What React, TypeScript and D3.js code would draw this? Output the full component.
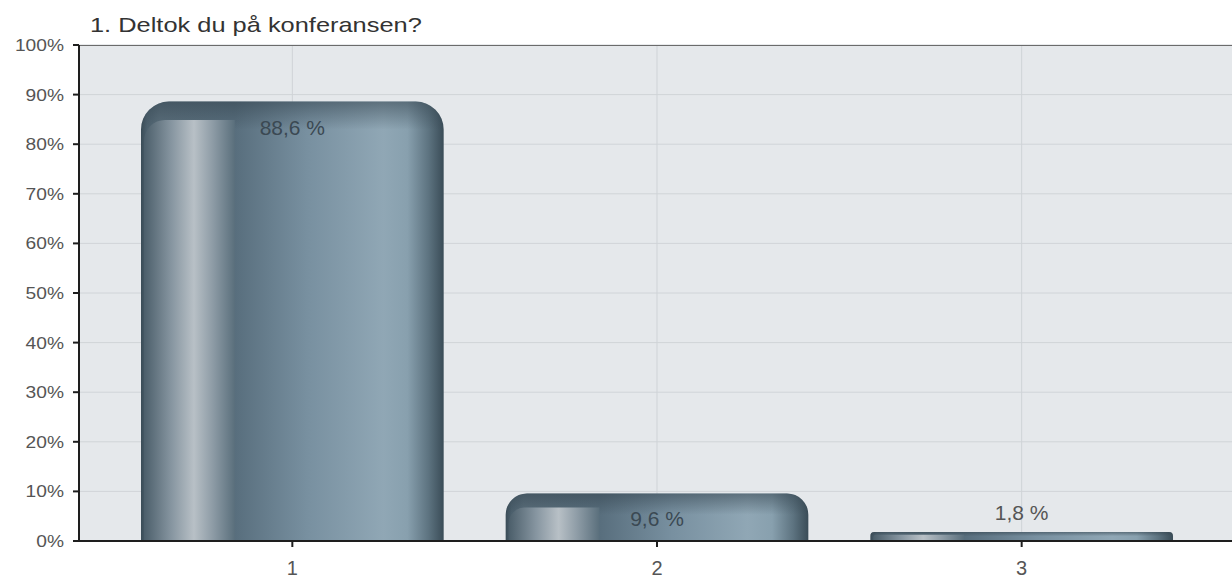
import React from "react";
import * as d3 from "d3";

const title = "1. Deltok du på konferansen?";
const categories = ["1", "2", "3"];
const values = [88.6, 9.6, 1.8];
const yTicks = [0, 10, 20, 30, 40, 50, 60, 70, 80, 90, 100];

const W = 1232;
const H = 578;
const left = 79;
const right = 1235;
const top = 45;
const bottom = 541;

const locale = d3.formatLocale({ decimal: ",", thousands: " ", grouping: [3], currency: ["", " kr"] });
const fmt = locale.format(".1f");

function topRoundedPath(x: number, y: number, w: number, h: number, r: number, rRight = true) {
  const p = d3.path();
  p.moveTo(x, y + h);
  p.lineTo(x, y + r);
  p.arcTo(x, y, x + r, y, r);
  if (rRight) {
    p.lineTo(x + w - r, y);
    p.arcTo(x + w, y, x + w, y + r, r);
  } else {
    p.lineTo(x + w, y);
  }
  p.lineTo(x + w, y + h);
  p.closePath();
  return p.toString();
}

export default function App() {
  const x = d3.scaleBand<string>().domain(categories).range([left, right]).paddingInner(0.17).paddingOuter(0.17);
  const y = d3.scaleLinear().domain([0, 100]).range([bottom, top]);
  const font = "'Liberation Sans', Arial, sans-serif";

  return (
    <svg width={W} height={H} style={{ position: "absolute", left: 0, top: 0, background: "#fff" }}>
      <defs>
        <linearGradient id="mainG" x1="0" x2="1" y1="0" y2="0">
          <stop offset="0" stopColor="#3a4c57" />
          <stop offset="0.02" stopColor="#4d616e" />
          <stop offset="0.06" stopColor="#5b6f7c" />
          <stop offset="0.31" stopColor="#586e7d" />
          <stop offset="0.55" stopColor="#7890a0" />
          <stop offset="0.8" stopColor="#90a7b5" />
          <stop offset="0.88" stopColor="#88a0ae" />
          <stop offset="0.95" stopColor="#5d7380" />
          <stop offset="1" stopColor="#3a4c57" />
        </linearGradient>
        <linearGradient id="innerG" x1="0" x2="1" y1="0" y2="0">
          <stop offset="0" stopColor="#4b5e6a" />
          <stop offset="0.3" stopColor="#8695a0" />
          <stop offset="0.55" stopColor="#b8c0c6" />
          <stop offset="0.75" stopColor="#8f9da7" />
          <stop offset="1" stopColor="#5a6f7c" />
        </linearGradient>
        <linearGradient id="topShade" x1="0" x2="0" y1="0" y2="1">
          <stop offset="0" stopColor="#34444f" stopOpacity="0.55" />
          <stop offset="1" stopColor="#34444f" stopOpacity="0" />
        </linearGradient>
      </defs>

      {/* plot background */}
      <rect x={left} y={top} width={right - left} height={bottom - top} fill="#e5e8eb" />
      {yTicks.map((t) => (
        <line key={"g" + t} x1={left} x2={right} y1={y(t)} y2={y(t)} stroke="#d0d4d8" strokeWidth={1} />
      ))}
      {categories.map((c) => (
        <line
          key={"v" + c}
          x1={(x(c) as number) + x.bandwidth() / 2}
          x2={(x(c) as number) + x.bandwidth() / 2}
          y1={top}
          y2={bottom}
          stroke="#cfd3d7"
          strokeWidth={1}
        />
      ))}
      <line x1={left} x2={right} y1={top + 0.5} y2={top + 0.5} stroke="#6b6b6b" strokeWidth={1.2} />

      {/* bars */}
      {categories.map((c, i) => {
        const v = values[i];
        const bx = x(c) as number;
        const bw = x.bandwidth();
        const by = y(v);
        const bh = bottom - by;
        const r = Math.min(28, bh * 0.45);
        const inset = r * 0.66;
        const innerW = bw * 0.3;
        const innerH = Math.max(0, bh - inset);
        const ir = Math.min(r * 0.75, innerH);
        const cx = bx + bw / 2;
        const inside = bh > 40;
        return (
          <g key={"b" + c}>
            <path d={topRoundedPath(bx, by, bw, bh, r)} fill="url(#mainG)" />
            <path d={topRoundedPath(bx, by, bw, Math.min(bh, r), r)} fill="url(#topShade)" />
            {innerH > 2 && (
              <path d={topRoundedPath(bx + 3, by + inset, innerW, innerH, ir, false)} fill="url(#innerG)" />
            )}
            <text
              x={cx}
              y={inside ? by + 33 : by - 12}
              textAnchor="middle"
              fontFamily={font}
              fontSize={21}
              fill={inside ? "#3b4953" : "#555"}
            >
              {fmt(v) + " %"}
            </text>
          </g>
        );
      })}

      {/* axes */}
      <line x1={left} x2={left} y1={top} y2={bottom + 1} stroke="#1e1e1e" strokeWidth={2} />
      <line x1={left - 6} x2={W} y1={bottom} y2={bottom} stroke="#1e1e1e" strokeWidth={2} />
      {yTicks.map((t) => (
        <g key={"t" + t}>
          <line x1={left - 6} x2={left} y1={y(t)} y2={y(t)} stroke="#1e1e1e" strokeWidth={2} />
          <text
            transform={`translate(${left - 15},${y(t) + 6}) scale(1.13,1)`}
            textAnchor="end"
            fontFamily={font}
            fontSize={17}
            fill="#555"
          >
            {t + "%"}
          </text>
        </g>
      ))}
      {categories.map((c) => {
        const cx = (x(c) as number) + x.bandwidth() / 2;
        return (
          <g key={"x" + c}>
            <line x1={cx} x2={cx} y1={bottom} y2={bottom + 6} stroke="#1e1e1e" strokeWidth={2} />
            <text x={cx} y={575} textAnchor="middle" fontFamily={font} fontSize={20} fill="#555">
              {c}
            </text>
          </g>
        );
      })}

      <text transform="translate(90,32) scale(1.21,1)" fontFamily={font} fontSize={21} fill="#333">
        {title}
      </text>
    </svg>
  );
}
